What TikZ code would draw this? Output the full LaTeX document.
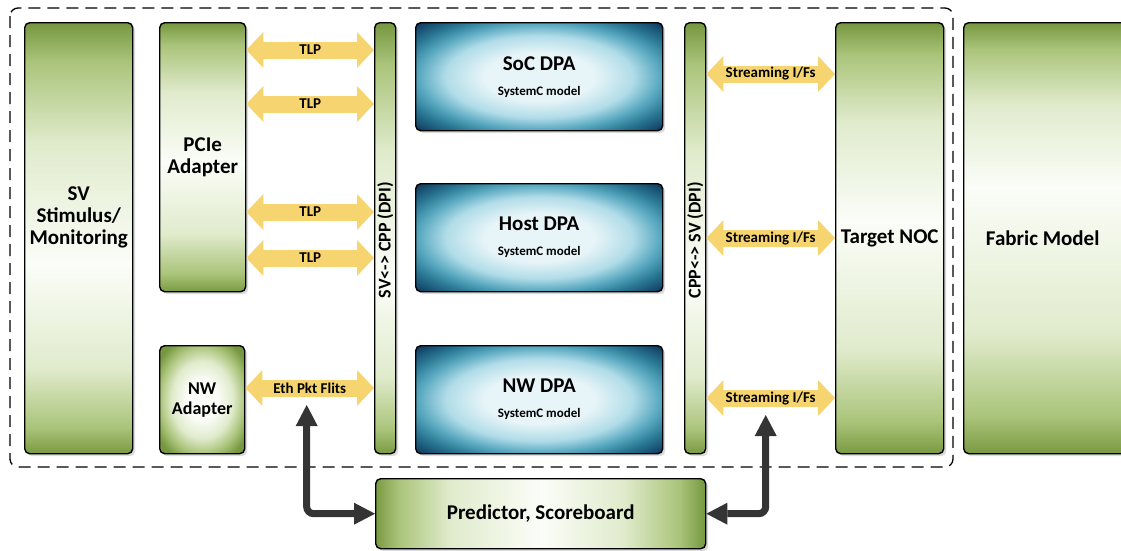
\documentclass[tikz,border=0pt]{standalone}
\usepackage{fontspec}
\setmainfont{Carlito}
\usetikzlibrary{arrows.meta,shadows}

% palette
\definecolor{gtop}{RGB}{118,151,64}
\definecolor{gbot}{RGB}{122,154,66}
\definecolor{gmid}{RGB}{170,196,122}
\definecolor{glight}{RGB}{224,235,204}
\definecolor{gwhite}{RGB}{251,253,248}
\definecolor{dpac}{RGB}{232,245,248}
\definecolor{dpal}{RGB}{176,220,232}
\definecolor{dpam}{RGB}{88,168,192}
\definecolor{dpae}{RGB}{42,120,148}
\definecolor{dpad}{RGB}{14,56,92}
\definecolor{ycol}{RGB}{246,212,112}
\definecolor{arrgray}{RGB}{52,52,52}

% green fade along one axis: green ends, pale band at position #3 (25..75)
\newcommand\greenfade[3]{%
  \pgfmathsetmacro\gfA{25+(#3-25)*0.14}%
  \pgfmathsetmacro\gfB{25+(#3-25)*0.45}%
  \pgfmathsetmacro\gfC{#3+(75-#3)*0.5}%
  \pgfmathsetmacro\gfD{#3+(75-#3)*0.84}%
  \edef\gfnext{\noexpand#1{#2}{100bp}{color(0bp)=(gbot); color(25bp)=(gbot);
    color(\gfA bp)=(gmid); color(\gfB bp)=(glight); color(#3bp)=(gwhite);
    color(\gfC bp)=(glight); color(\gfD bp)=(gmid); color(75bp)=(gtop); color(100bp)=(gtop)}}%
  \gfnext}
\greenfade\pgfdeclareverticalshading{gsv}{47}
\greenfade\pgfdeclareverticalshading{gpcie}{49}
\greenfade\pgfdeclareverticalshading{gbar}{45}
\greenfade\pgfdeclareverticalshading{gnoc}{52}
\greenfade\pgfdeclareverticalshading{gfab}{56}
\greenfade\pgfdeclarehorizontalshading{gpred}{50}
\pgfdeclareradialshading{gnw}{\pgfpoint{0bp}{0bp}}{color(0bp)=(gwhite); color(9bp)=(gwhite);
  color(18bp)=(glight); color(25bp)=(gmid); color(31bp)=(gtop); color(50bp)=(gtop)}
\pgfdeclareradialshading{dpash}{\pgfpoint{0bp}{0bp}}{color(0bp)=(dpac); color(11bp)=(dpac);
  color(19bp)=(dpal); color(24.5bp)=(dpam); color(29bp)=(dpae); color(35bp)=(dpad); color(50bp)=(dpad)}

\tikzset{
  box/.style={draw=black, line width=1.4pt, rounded corners=5pt, anchor=north west,
    inner sep=0pt, align=center, shade, font=\bfseries\fontsize{21}{22}\selectfont,
    drop shadow={opacity=0.28, shadow xshift=2.5pt, shadow yshift=-2.5pt}},
  dpabox/.style={box, shading=dpash},
  bartext/.style={font=\bfseries\fontsize{18}{20}\selectfont, rotate=90, inner sep=0pt},
  lbl/.style={font=\bfseries\fontsize{15}{16}\selectfont, inner sep=0pt, minimum height=17pt},
  yarrow/.style={draw=ycol, line width=17pt,
    arrows={Triangle[length=17pt,width=36pt,line width=0pt]-Triangle[length=17pt,width=36pt,line width=0pt]}},
  darkarrow/.style={draw=arrgray, line width=7pt, rounded corners=7pt,
    arrows={Triangle[length=21pt,width=22pt,line width=0pt]-Triangle[length=21pt,width=22pt,line width=0pt]}},
  frame/.style={draw=black, line width=1.3pt, dash pattern=on 12pt off 7pt, rounded corners=8pt}
}

\begin{document}
\begin{tikzpicture}[x=1pt,y=-1pt]
\useasboundingbox (0,0) rectangle (1121,550);
\clip (0,0) rectangle (1121,550);
\fill[white] (0,0) rectangle (1121,550);

% dashed environment boundary
\draw[frame] (10,8) rectangle (953,467);

% blocks
\node[box, shading=gsv, minimum width=108pt, minimum height=431pt] (sv) at (24,22) {};
\node[font=\bfseries\fontsize{21}{22}\selectfont, align=center] at ([yshift=21pt]sv.center) {SV\\Stimulus/\\Monitoring};
\node[box, shading=gpcie, minimum width=86pt, minimum height=269pt] (pcie) at (159,22) {PCIe\\Adapter};
\node[box, shading=gnw, minimum width=85pt, minimum height=108pt, font=\bfseries\fontsize{18}{20}\selectfont] (nw) at (159,345) {NW\\Adapter};

\node[box, shading=gbar, minimum width=21pt, minimum height=431pt] (svcpp) at (374,22) {};
\node[bartext] at ([yshift=-2pt]svcpp.center) {SV<-> CPP (DPI)};

\node[dpabox, minimum width=247pt, minimum height=108pt] (soc) at (415,22)
  {SoC DPA\\[3pt]{\fontsize{13}{15}\selectfont SystemC model}};
\node[dpabox, minimum width=247pt, minimum height=108pt] (host) at (415,183)
  {Host DPA\\[3pt]{\fontsize{13}{15}\selectfont SystemC model}};
\node[dpabox, minimum width=247pt, minimum height=108pt] (nwdpa) at (415,345)
  {NW DPA\\[3pt]{\fontsize{13}{15}\selectfont SystemC model}};

\node[box, shading=gbar, minimum width=21pt, minimum height=431pt] (cppsv) at (684,22) {};
\node[bartext] at ([yshift=-2pt]cppsv.center) {CPP<-> SV (DPI)};

\node[box, shading=gnoc, minimum width=108pt, minimum height=431pt] (noc) at (835,22) {Target NOC};
\node[box, shading=gfab, minimum width=165pt, minimum height=431pt] (fab) at (963,22) {\hspace*{-7pt}Fabric Model};

\node[box, shading=gpred, minimum width=330pt, minimum height=70pt] (pred) at (375,478) {Predictor, Scoreboard};

% PCIe transaction links
\draw[yarrow] (pcie.east |- 0,50)  -- node[lbl] (t1) {TLP} (svcpp.west |- 0,50);
\draw[yarrow] (pcie.east |- 0,104) -- node[lbl] (t2) {TLP} (svcpp.west |- 0,104);
\draw[yarrow] (pcie.east |- 0,212) -- node[lbl] (t3) {TLP} (svcpp.west |- 0,212);
\draw[yarrow] (pcie.east |- 0,258) -- node[lbl] (t4) {TLP} (svcpp.west |- 0,258);
\draw[yarrow] (nw.east |- 0,388) -- node[lbl] (eth) {Eth Pkt Flits} (svcpp.west |- 0,388);

% streaming interfaces to the NOC
\draw[yarrow] (cppsv.east |- 0,74)  -- node[lbl] (s1) {Streaming I/Fs} (noc.west |- 0,74);
\draw[yarrow] (cppsv.east |- 0,238) -- node[lbl] (s2) {Streaming I/Fs} (noc.west |- 0,238);
\draw[yarrow] (cppsv.east |- 0,398) -- node[lbl] (s3) {Streaming I/Fs} (noc.west |- 0,398);

% checker taps
\draw[darkarrow] ([xshift=-3pt]eth.south) |- (pred.west);
\draw[darkarrow] ([xshift=-5pt]s3.south) |- (pred.east);
\end{tikzpicture}
\end{document}
